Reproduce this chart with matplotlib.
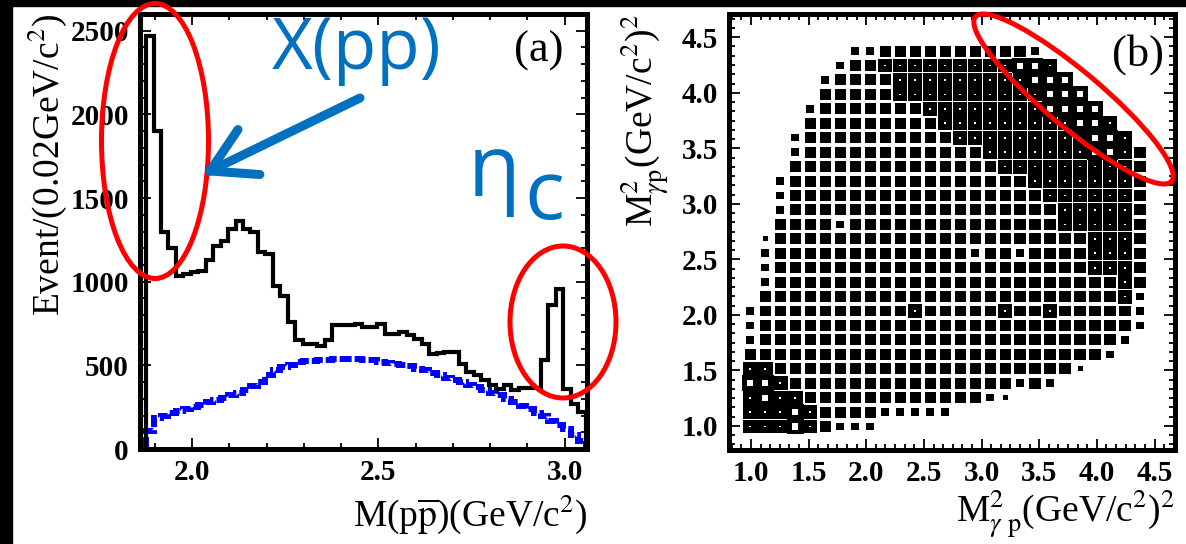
import numpy as np
import matplotlib
matplotlib.use('Agg')
import matplotlib.pyplot as plt
from matplotlib.patches import Rectangle, Ellipse
from matplotlib.collections import PatchCollection
from matplotlib.ticker import MultipleLocator, AutoMinorLocator, FormatStrFormatter

plt.rcParams['font.family'] = 'Liberation Serif'
plt.rcParams['mathtext.fontset'] = 'stix'

# ---- panel (a): M(p pbar), 0.02 GeV/c^2 bins from threshold ----
m_lo = 1.8765
bin_w = 0.02
data_counts = [2470, 1900, 1300, 1200, 1035, 1045, 1055, 1065, 1130, 1215,
               1245, 1315, 1365, 1315, 1295, 1175, 1165, 975, 915, 760,
               650, 630, 625, 615, 650, 740, 740, 740, 750, 728,
               728, 750, 690, 690, 700, 680, 660, 630, 570, 575,
               580, 578, 510, 460, 440, 410, 380, 360, 385, 355,
               366, 366, 366, 533, 858, 957, 360, 266, 220]
bkg_counts = [110, 185, 200, 215, 225, 240, 250, 265, 280, 295,
              305, 320, 335, 355, 375, 400, 440, 470, 490, 505,
              520, 525, 525, 530, 530, 535, 540, 540, 535, 530,
              530, 520, 515, 510, 500, 495, 480, 470, 455, 440,
              425, 415, 400, 385, 370, 355, 335, 320, 300, 280,
              260, 240, 215, 195, 170, 145, 120, 85, 45]

# ---- panel (b): Dalitz plot box levels (0 = empty .. 5 = largest) ----
# rows from top (M2 = 4.375) to bottom (M2 = 0.995), 0.13 GeV^2 bins
dalitz_lo = 0.93
dalitz_bw = 0.13
dalitz_rows = [
    "......." "2233333333332" ".......",
    "......" "233444444444554" "......",
    "....." "23333444444444555" ".....",
    "....." "333334444444444555" "....",
    "...." "23333333444444445555" "...",
    "...." "333333333444444444554" "..",
    "..." "23333333333444444444554" ".",
    "..." "233333333333344444445543",
    "..." "333333333333334444444443",
    ".." "2" "3333333333333333" "4444444" "3",
    ".." "2" "33333333333333333" "444444" "3",
    ".." "2" "333333333333333333" "44444" "3",
    ".." "3333" "2" "33333333333333" "44444" "3",
    "." "1" "333333333333333333333" "444" "3",
    "." "2" "3333333333333" "2" "33" "2" "3333" "444" "3",
    "." "2" "333333333333333333333" "444" "3",
    "." "2" "33333333333333333333333" "4" "3",
    "." "3" "33333333333333333333333" "4" "2",
    "2" "3333333333" "4" "33333" "4" "33" "4" "33333" "2",
    "2" "3333333333333333333333333" "2",
    "2" "333333333333333333333333" "2" ".",
    "333333333333333333333333" "2" "..",
    "44" "33333333333333333333" "1" "....",
    "554" "333333333333333" "232" "......",
    "4544" "333333333333" "21" ".........",
    "44454" "3333" "22222" ".............",
    "44454" "3222" "..................",
]
box_outer = {1: 0.34, 2: 0.52, 3: 0.76, 4: 0.96, 5: 1.1}
box_inner = {4: 0.12, 5: 0.42}

W, H = 1186, 544
fig = plt.figure(figsize=(W / 100, H / 100), dpi=100)
fig.patch.set_facecolor('white')

# black frame strips of the original slide
bg = fig.add_axes([0, 0, 1, 1], zorder=-1)
bg.set_xlim(0, W)
bg.set_ylim(H, 0)
bg.axis('off')
bg.add_patch(Rectangle((0, 0), W, 6, color='black'))
bg.add_patch(Rectangle((0, 0), 12, H, color='black'))


def style_axes(ax, minor_x, minor_y):
    for sp in ax.spines.values():
        sp.set_linewidth(3.6)
    ax.tick_params(which='both', direction='in', top=True, right=True, width=1.3)
    ax.tick_params(which='major', length=8, labelsize=21)
    ax.tick_params(which='minor', length=4)
    ax.tick_params(axis='y', pad=8)
    ax.tick_params(axis='x', pad=7)
    ax.xaxis.set_minor_locator(AutoMinorLocator(minor_x))
    ax.yaxis.set_minor_locator(AutoMinorLocator(minor_y))
    for lab in ax.get_xticklabels() + ax.get_yticklabels():
        lab.set_fontweight('bold')


# panel (a)
ax1 = fig.add_axes([140 / W, 1 - 449 / H, 447 / W, 435 / H])
edges = m_lo + bin_w * np.arange(len(data_counts) + 1)
ax1.stairs(bkg_counts, edges, color='#0000ff', lw=4.3,
           linestyle=(0, (2.0, 0.5)), baseline=0)
ax1.stairs(data_counts, edges, color='black', lw=3.0, baseline=0)
ax1.set_xlim(1.86, 3.06)
ax1.set_ylim(0, 2600)
ax1.xaxis.set_major_locator(MultipleLocator(0.5))
ax1.xaxis.set_major_formatter(FormatStrFormatter('%.1f'))
ax1.yaxis.set_major_locator(MultipleLocator(500))
style_axes(ax1, 5, 5)

# panel (b)
ax2 = fig.add_axes([729 / W, 1 - 450.4 / H, 446.3 / W, 436.5 / H])
n_rows = len(dalitz_rows)
black_boxes, white_boxes = [], []
for r, row in enumerate(dalitz_rows):
    yc = dalitz_lo + dalitz_bw * (n_rows - 1 - r) + dalitz_bw / 2
    for c, ch in enumerate(row):
        if ch == '.':
            continue
        lvl = int(ch)
        xc = dalitz_lo + dalitz_bw * c + dalitz_bw / 2
        s = box_outer[lvl] * dalitz_bw
        black_boxes.append(Rectangle((xc - s / 2, yc - s / 2), s, s))
        if lvl in box_inner:
            si = box_inner[lvl] * dalitz_bw
            white_boxes.append(Rectangle((xc - si / 2, yc - si / 2), si, si))
ax2.add_collection(PatchCollection(black_boxes, facecolor='black', edgecolor='none'))
ax2.add_collection(PatchCollection(white_boxes, facecolor='white', edgecolor='none'))
ax2.set_xlim(0.81, 4.68)
ax2.set_ylim(0.78, 4.71)
ax2.xaxis.set_major_locator(MultipleLocator(0.5))
ax2.yaxis.set_major_locator(MultipleLocator(0.5))
ax2.xaxis.set_major_formatter(FormatStrFormatter('%.1f'))
ax2.yaxis.set_major_formatter(FormatStrFormatter('%.1f'))
style_axes(ax2, 6, 6)

# overlay in pixel coordinates for labels and annotations
ov = fig.add_axes([0, 0, 1, 1], zorder=10)
ov.set_xlim(0, W)
ov.set_ylim(H, 0)
ov.axis('off')
ov.patch.set_visible(False)

ov.text(47, 14, 'Event/(0.02GeV/c$^{2}$)', rotation=90, ha='center', va='top', fontsize=27)
ov.text(587, 492, r'M(p$\overline{\mathrm{p}}$)(GeV/c$^{2}$)', ha='right', va='top', fontsize=27)
ov.text(645, 14, r'M$^{2}_{\gamma \mathrm{p}}$(GeV/c$^{2}$)$^{2}$', rotation=90,
        ha='center', va='top', fontsize=27)
ov.text(1175, 488, r'M$^{2}_{\gamma\ \mathrm{p}}$(GeV/c$^{2}$)$^{2}$', ha='right', va='top', fontsize=27)
ov.text(564, 31, '(a)', ha='right', va='top', fontsize=32)
ov.text(1164, 34, '(b)', ha='right', va='top', fontsize=32)

blue = '#0070c0'
ov.text(272, 69, 'X(pp)', color=blue, fontsize=51, family='Open Sans', va='baseline')
ov.text(468, 196, 'η', color=blue, fontsize=62, family=['Open Sans', 'DejaVu Sans'], va='baseline')
ov.text(524, 219, 'c', color=blue, fontsize=60, family='Open Sans', va='baseline')

tip = np.array([210.0, 171.0])
tail = np.array([360.0, 98.0])
ov.plot([tail[0], tip[0]], [tail[1], tip[1]], color=blue, lw=6.5, solid_capstyle='round')
d = (tail - tip) / np.hypot(*(tail - tip))
for ang in (np.radians(30), -np.radians(30)):
    rot = np.array([[np.cos(ang), -np.sin(ang)], [np.sin(ang), np.cos(ang)]])
    end = tip + 50 * rot @ d
    ov.plot([tip[0], end[0]], [tip[1], end[1]], color=blue, lw=6.5, solid_capstyle='round')

for (cx, cy, ew, eh, ang) in [(155, 141, 107, 275, 0), (563, 322, 106, 152, 0),
                               (1073.5, 99, 256, 56, 40)]:
    ov.add_patch(Ellipse((cx, cy), ew, eh, angle=ang, fill=False, ec='#ff0000', lw=3.6))

fig.savefig('out.png', dpi=100, facecolor=fig.get_facecolor())
